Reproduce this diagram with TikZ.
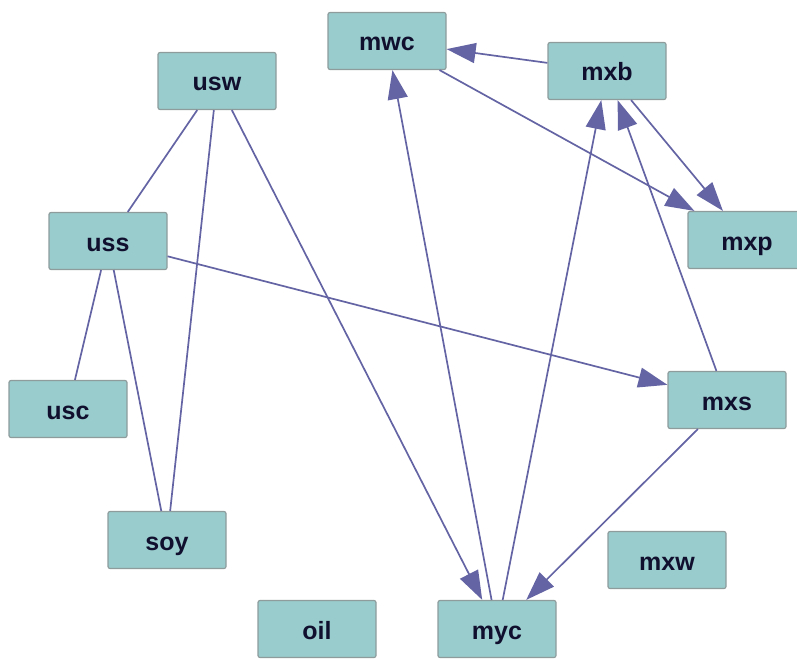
\documentclass[tikz,border=0pt]{standalone}
\usepackage{fontspec}
\setmainfont{Liberation Sans}
\usetikzlibrary{arrows.meta}
\definecolor{boxfill}{HTML}{99CCCC}
\definecolor{boxline}{HTML}{8E9C9C}
\definecolor{edgecol}{HTML}{6464A4}
\definecolor{txt}{HTML}{10102E}
\begin{document}
\begin{tikzpicture}[x=1pt,y=-1pt,
  vbox/.style={draw=boxline,fill=boxfill,rounded corners=2pt,line width=1.2pt,
    minimum width=118pt,minimum height=57pt,inner sep=0pt,
    text height=20pt,text depth=0pt,
    font=\fontsize{25}{25}\selectfont\bfseries,text=txt},
  link/.style={draw=edgecol,line width=1.7pt},
  dirlink/.style={link,-{Triangle[length=29pt,width=20pt]}}]
\useasboundingbox (0,0) rectangle (797,658);
\clip (0,0) rectangle (797,658);
\node[vbox] (mwc) at (387,41) {mwc};
\node[vbox] (mxb) at (607,71) {mxb};
\node[vbox] (usw) at (217,81) {usw};
\node[vbox] (uss) at (108,241) {uss};
\node[vbox] (mxp) at (747,240) {mxp};
\node[vbox] (usc) at (68,409) {usc};
\node[vbox] (mxs) at (727,400) {mxs};
\node[vbox] (soy) at (167,540) {soy};
\node[vbox] (mxw) at (667,560) {mxw};
\node[vbox] (oil) at (317,629) {oil};
\node[vbox] (myc) at (497,629) {myc};
\draw[link] (usw) -- (uss);
\draw[link] (usw) -- (soy);
\draw[link] (uss) -- (usc);
\draw[link] (uss) -- (soy);
\draw[dirlink] (mxb) -- (mwc);
\draw[dirlink] (mwc) -- (mxp);
\draw[dirlink] (mxb) -- (mxp);
\draw[dirlink] (myc) -- (mwc);
\draw[dirlink] (myc) -- (mxb);
\draw[dirlink] (mxs) -- (mxb);
\draw[dirlink] (uss) -- (mxs);
\draw[dirlink] (usw) -- (myc);
\draw[dirlink] (mxs) -- (myc);
\end{tikzpicture}
\end{document}
